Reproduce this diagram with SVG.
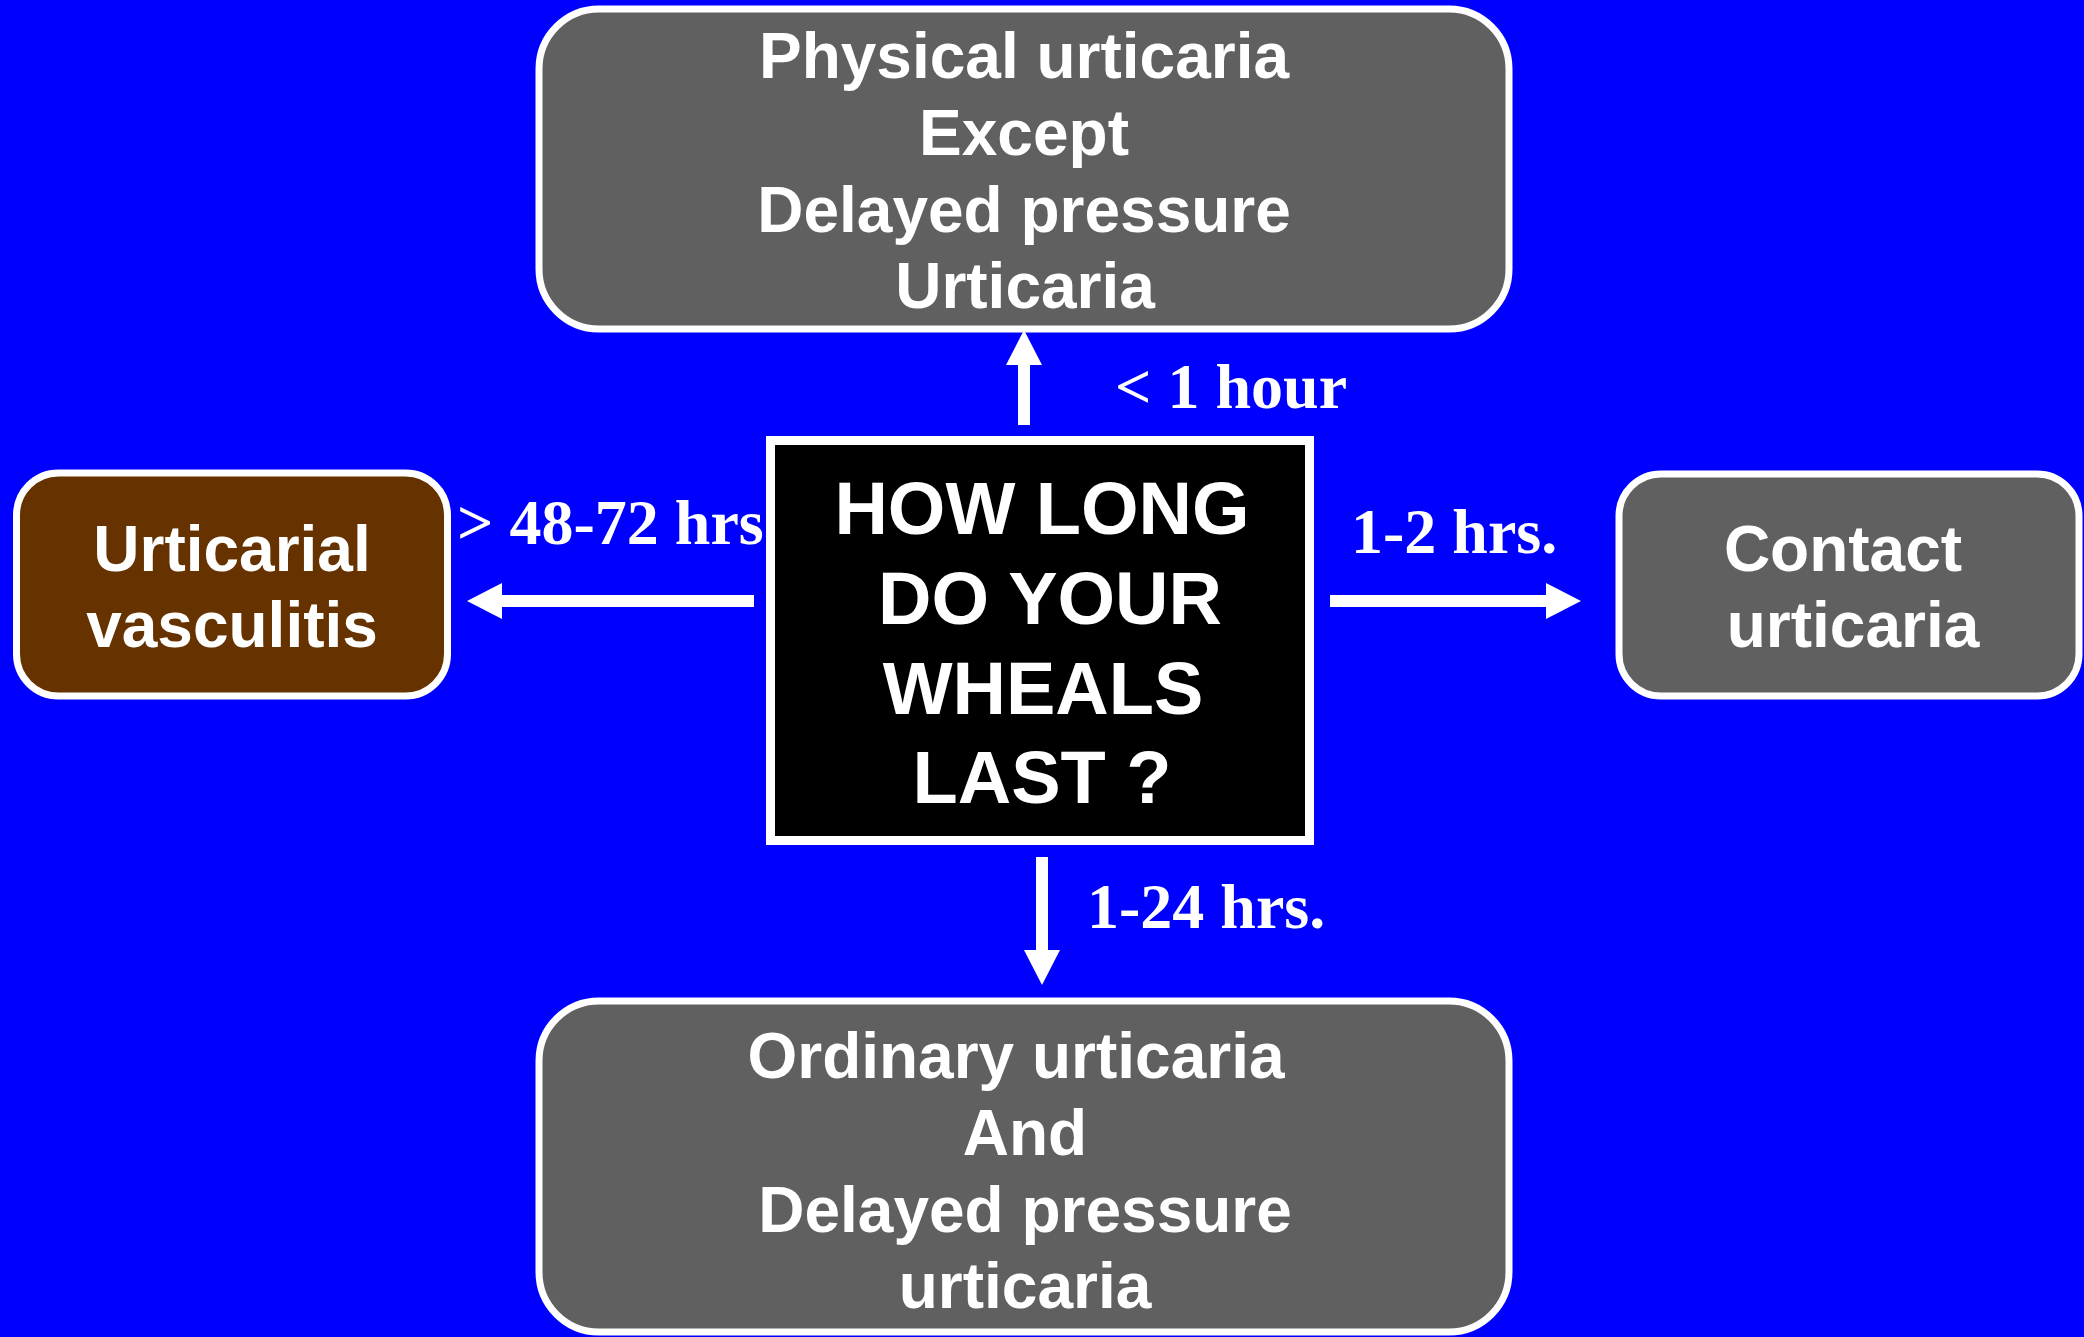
<svg xmlns="http://www.w3.org/2000/svg" width="2084" height="1337" viewBox="0 0 2084 1337">
<defs>
<style>
.box{fill:#606060;stroke:#ffffff;stroke-width:7}
.brown{fill:#663300;stroke:#ffffff;stroke-width:7}
.center{fill:#000000;stroke:#ffffff;stroke-width:9}
.nt{font-family:"Liberation Sans",Arial,sans-serif;font-weight:bold;font-size:64px;fill:#ffffff;text-anchor:middle}
.ct{font-family:"Liberation Sans",Arial,sans-serif;font-weight:bold;font-size:74px;fill:#ffffff;text-anchor:middle}
.lbl{font-family:"Liberation Serif","Times New Roman",serif;font-weight:bold;font-size:64px;fill:#ffffff}
.conn{stroke:#ffffff;stroke-width:12;fill:none}
</style>
<marker id="ah" markerUnits="userSpaceOnUse" markerWidth="35" markerHeight="36" viewBox="0 0 35 36" refX="0" refY="18" orient="auto">
<path d="M0,0 L35,18 L0,36 Z" fill="#ffffff"/>
</marker>
</defs>
<rect x="0" y="0" width="2084" height="1337" fill="#0000ff"/>

<g id="connectors">
<line class="conn" x1="1024" y1="425" x2="1024" y2="365" marker-end="url(#ah)"/>
<line class="conn" x1="754" y1="601" x2="502" y2="601" marker-end="url(#ah)"/>
<line class="conn" x1="1330" y1="601" x2="1546" y2="601" marker-end="url(#ah)"/>
<line class="conn" x1="1042" y1="857" x2="1042" y2="950" marker-end="url(#ah)"/>
<text class="lbl" x="1115" y="408">&lt; 1 hour</text>
<text class="lbl" x="457" y="544">&gt; 48-72 hrs</text>
<text class="lbl" x="1351" y="553">1-2 hrs.</text>
<text class="lbl" x="1087" y="928">1-24 hrs.</text>
</g>

<g id="node-physical">
<rect class="box" x="539" y="9" width="970" height="320" rx="60" ry="60"/>
<text class="nt" x="1024" y="78">Physical urticaria</text>
<text class="nt" x="1024" y="155">Except</text>
<text class="nt" x="1024" y="232">Delayed pressure</text>
<text class="nt" x="1025" y="308">Urticaria</text>
</g>

<g id="node-question">
<rect class="center" x="770.5" y="440.5" width="539" height="400"/>
<text class="ct" x="1042" y="534">HOW LONG</text>
<text class="ct" x="1050" y="624">DO YOUR</text>
<text class="ct" x="1043" y="714">WHEALS</text>
<text class="ct" x="1042" y="803">LAST ?</text>
</g>

<g id="node-vasculitis">
<rect class="brown" x="16.5" y="473" width="431" height="223" rx="42" ry="42"/>
<text class="nt" x="232" y="571">Urticarial</text>
<text class="nt" x="232" y="647">vasculitis</text>
</g>

<g id="node-contact">
<rect class="box" x="1619" y="474" width="460" height="222" rx="42" ry="42"/>
<text class="nt" x="1843" y="571">Contact</text>
<text class="nt" x="1853" y="647">urticaria</text>
</g>

<g id="node-ordinary">
<rect class="box" x="539" y="1001" width="970" height="331" rx="60" ry="60"/>
<text class="nt" x="1016" y="1078">Ordinary urticaria</text>
<text class="nt" x="1025" y="1155">And</text>
<text class="nt" x="1025" y="1232">Delayed pressure</text>
<text class="nt" x="1025" y="1308">urticaria</text>
</g>
</svg>
